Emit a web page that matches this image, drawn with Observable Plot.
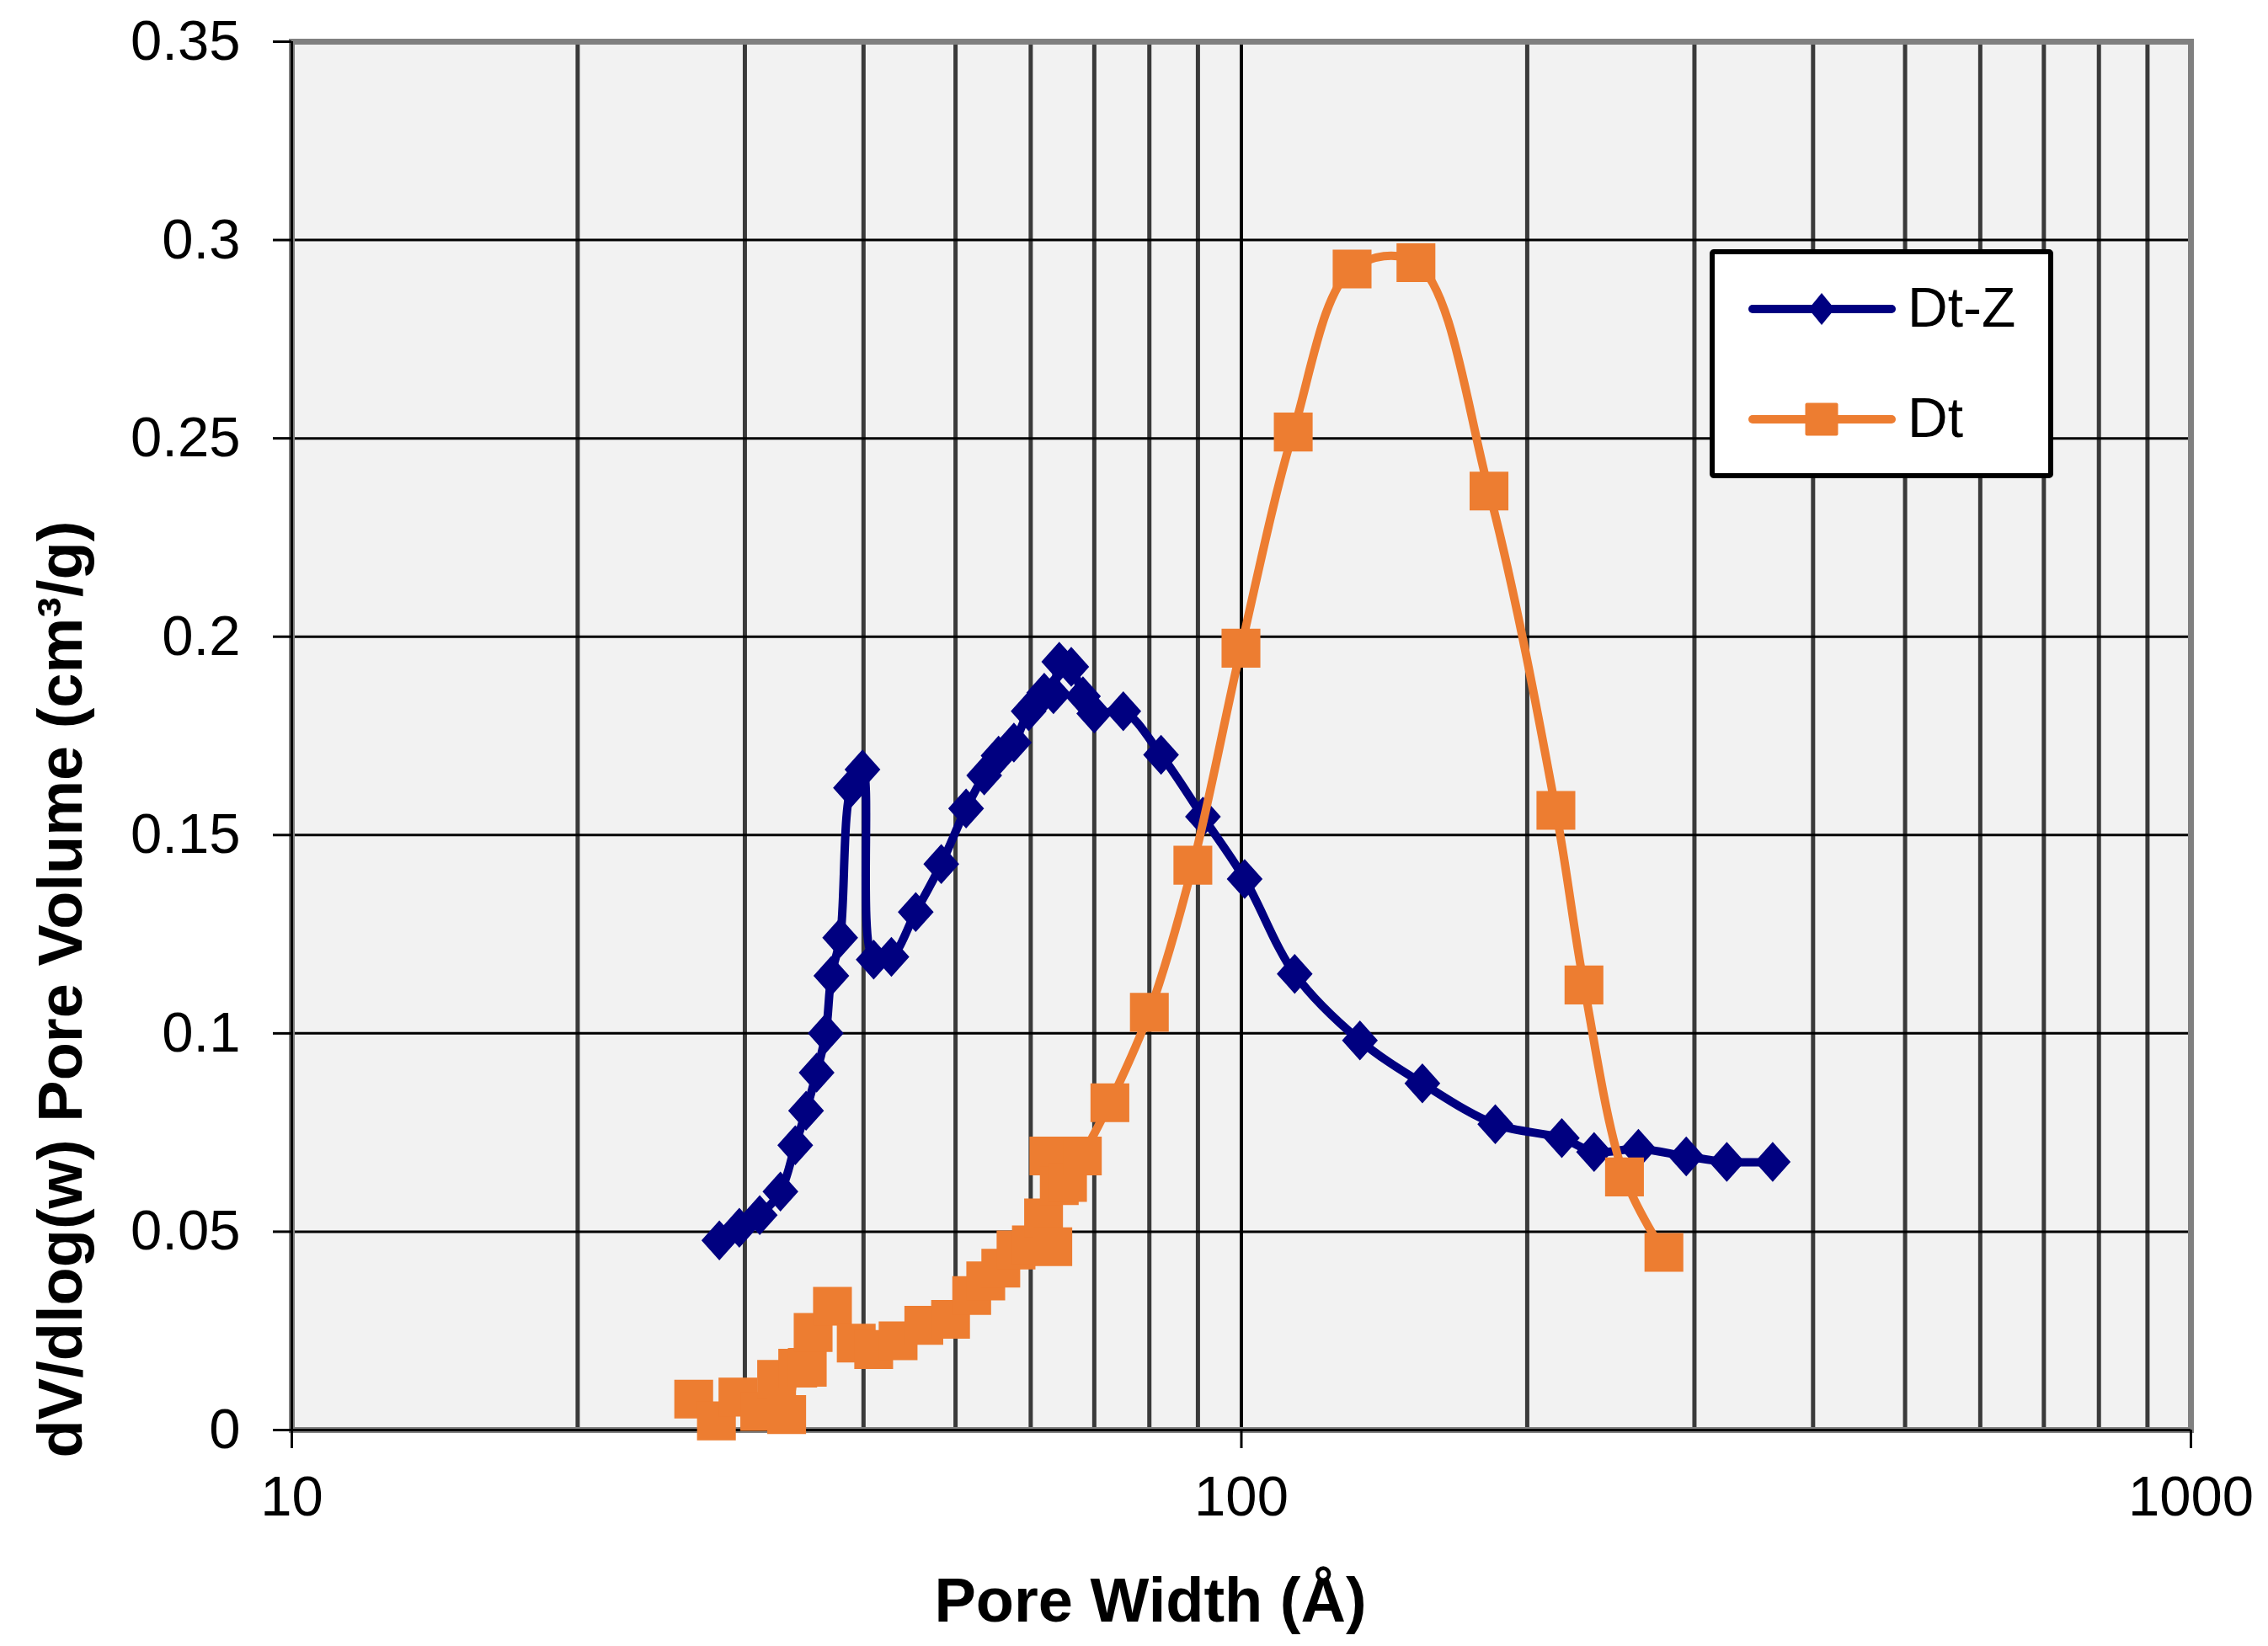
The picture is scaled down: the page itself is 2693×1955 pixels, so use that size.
<!DOCTYPE html>
<html>
<head>
<meta charset="utf-8">
<script src="https://cdn.jsdelivr.net/npm/d3@7"></script>
<script src="https://cdn.jsdelivr.net/npm/@observablehq/plot@0.6"></script>
<style>
  html, body { margin: 0; padding: 0; background: #ffffff; }
  #chart { width: 2693px; height: 1955px; }
</style>
</head>
<body>
<div id="chart"></div>
<script>
// ---- Data ----
const seriesNames = ["Dt-Z", "Dt"];
const seriesColors = ["#000080", "#ED7D31"];

const dtzWidth = [28.2,29.6,31.1,32.7,33.9,34.8,35.7,36.5,37.0,37.8,38.8,39.9,41.0,42.8,45.4,48.3,51.3,53.6,55.5,57.6,59.7,62.0,63.4,64.3,66.2,68.1,70.0,75.1,82.3,91.1,100.8,113.8,133.3,155.1,185.1,217.5,235.2,261.9,294.1,324.5,362.7];
const dtzVolume = [0.0478,0.0510,0.0542,0.0601,0.0718,0.0805,0.0901,0.1000,0.1145,0.1241,0.1619,0.1665,0.1186,0.1193,0.1306,0.1427,0.1567,0.1650,0.1700,0.1733,0.1812,0.1859,0.1855,0.1937,0.1924,0.1850,0.1806,0.1812,0.1702,0.1546,0.1389,0.1150,0.0982,0.0874,0.0771,0.0736,0.0701,0.0709,0.0690,0.0676,0.0676];

const dtWidth = [26.5,28.0,29.5,31.1,32.4,33.2,34.1,34.9,35.4,37.1,39.3,41.0,43.5,46.3,49.4,52.0,53.8,55.8,57.9,60.1,61.9,62.7,63.3,64.3,65.6,68.0,72.7,80.0,88.9,99.9,113.4,130.8,152.7,182.3,214.4,229.5,253.2,278.6];
const dtVolume = [0.0078,0.0023,0.0083,0.0047,0.0128,0.0039,0.0156,0.0158,0.0246,0.0312,0.0219,0.0203,0.0225,0.0264,0.0279,0.0339,0.0376,0.0408,0.0454,0.0467,0.0535,0.0691,0.0462,0.0616,0.0624,0.0691,0.0825,0.1053,0.1424,0.1971,0.2516,0.2927,0.2943,0.2367,0.1562,0.1122,0.0638,0.0448];

const xTicks = [10, 100, 1000];
const xTickLabels = ["10", "100", "1000"];
const xMinorGrid = [20,30,40,50,60,70,80,90,200,300,400,500,600,700,800,900];
const yTicks = [0, 0.05, 0.1, 0.15, 0.2, 0.25, 0.3, 0.35];
const yTickLabels = ["0", "0.05", "0.1", "0.15", "0.2", "0.25", "0.3", "0.35"];
const xTitle = "Pore Width (Å)";
const yTitle = "dV/dlog(w) Pore Volume (cm³/g)";

// ---- Build tables ----
const dtz = dtzWidth.map((w, i) => ({width: w, volume: dtzVolume[i]}));
const dt = dtWidth.map((w, i) => ({width: w, volume: dtVolume[i]}));
const xLabelMap = new Map(xTicks.map((t, i) => [t, xTickLabels[i]]));
const yLabelMap = new Map(yTicks.map((t, i) => [t, yTickLabels[i]]));

// near-square diamond symbol (Excel style)
const diamondSymbol = {
  draw(ctx, size) {
    const s = Math.sqrt(size);
    const w = s * 0.6, h = s * 0.67;
    ctx.moveTo(0, -h); ctx.lineTo(w, 0); ctx.lineTo(0, h); ctx.lineTo(-w, 0); ctx.closePath();
  }
};

const font = "'Liberation Sans', Arial, sans-serif";

const chart = Plot.plot({
  width: 2693,
  height: 1955,
  marginLeft: 346,
  marginRight: 92,
  marginTop: 49,
  marginBottom: 257,
  style: {background: "#ffffff", fontFamily: font, fontSize: "67px", color: "#000"},
  x: {type: "log", domain: [10, 1000]},
  y: {domain: [0, 0.35]},
  marks: [
    Plot.frame({fill: "#f2f2f2", stroke: null}),
    Plot.ruleX(xMinorGrid, {stroke: "#3a3a3a", strokeWidth: 5}),
    Plot.ruleX([100], {stroke: "#000", strokeWidth: 4}),
    Plot.ruleY(yTicks.slice(1), {stroke: "#000", strokeWidth: 3}),
    Plot.frame({stroke: "#808080", strokeWidth: 7}),
    Plot.ruleX([10], {stroke: "#000", strokeWidth: 3}),
    Plot.ruleY([0], {stroke: "#000", strokeWidth: 3}),
    Plot.axisY(yTicks, {tickSize: 22, tickPadding: 39, strokeWidth: 3, stroke: "#000",
      tickFormat: d => yLabelMap.get(d), fontSize: 67, label: null}),
    Plot.axisX(xTicks, {tickSize: 22, tickPadding: 32, strokeWidth: 3, stroke: "#000",
      tickFormat: d => xLabelMap.get(d), fontSize: 67, label: null}),
    Plot.text([xTitle], {frameAnchor: "bottom", dx: -108, dy: 204, fontSize: 74, fontWeight: "bold",
      lineAnchor: "middle", textAnchor: "middle", fill: "#000"}),
    Plot.text([yTitle], {frameAnchor: "left", rotate: -90, dx: -273, dy: 301, fontSize: 74, fontWeight: "bold",
      lineAnchor: "middle", textAnchor: "middle", fill: "#000"}),
    // Dt-Z
    Plot.line(dtz, {x: "width", y: "volume", stroke: seriesColors[0], strokeWidth: 10, curve: "catmull-rom"}),
    Plot.dot(dtz, {x: "width", y: "volume", fill: seriesColors[0], stroke: null, r: 20, symbol: diamondSymbol}),
    // Dt
    Plot.line(dt, {x: "width", y: "volume", stroke: seriesColors[1], strokeWidth: 10, curve: "catmull-rom"}),
    Plot.dot(dt, {x: "width", y: "volume", fill: seriesColors[1], stroke: null, r: 26, symbol: "square"})
  ]
});

document.getElementById("chart").appendChild(chart);

// ---- Legend (boxed, top right inside plot) ----
const svg = d3.select(chart);
const lg = svg.append("g").attr("font-family", font).attr("text-anchor", "start");
lg.append("rect").attr("x", 2033).attr("y", 299).attr("width", 402).attr("height", 266)
  .attr("rx", 2).attr("fill", "#ffffff").attr("stroke", "#000").attr("stroke-width", 6);
const rowsY = [367, 498];
seriesNames.forEach((name, i) => {
  const y = rowsY[i];
  lg.append("line").attr("x1", 2081).attr("x2", 2246).attr("y1", y).attr("y2", y)
    .attr("stroke", seriesColors[i]).attr("stroke-width", 10).attr("stroke-linecap", "round");
  if (i === 0) {
    lg.append("path").attr("d", `M2163,${y-19}L2178.5,${y}L2163,${y+19}L2147.5,${y}Z`).attr("fill", seriesColors[i]);
  } else {
    lg.append("rect").attr("x", 2143.5).attr("y", y - 19.5).attr("width", 39).attr("height", 39)
      .attr("rx", 2).attr("fill", seriesColors[i]);
  }
  lg.append("text").attr("x", 2265).attr("y", y + 21).attr("font-size", 66)
    .attr("text-anchor", "start").attr("fill", "#000").text(name);
});
</script>
</body>
</html>
